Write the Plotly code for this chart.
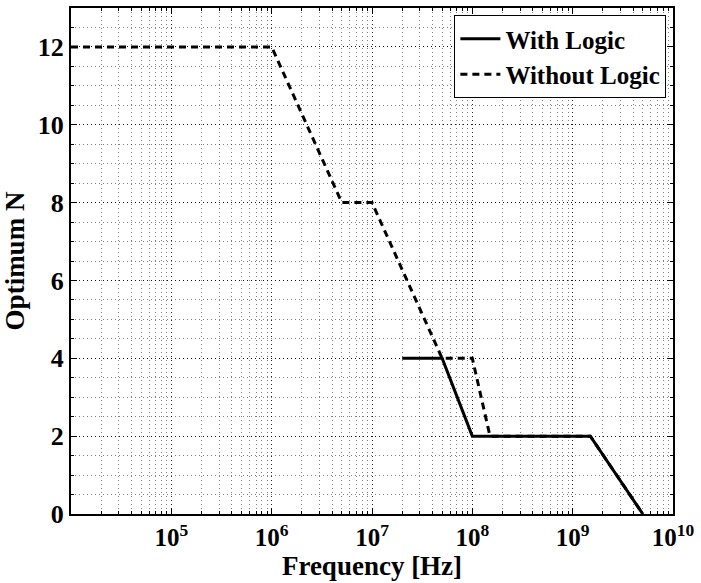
import plotly.graph_objects as go

# Data
with_freq = [2e7, 5e7, 1e8, 1.5e9, 5e9]
with_n = [4, 4, 2, 2, 0]
without_freq = [1e4, 1e6, 5e6, 1e7, 5e7, 1e8, 1.5e8, 1.5e9, 5e9]
without_n = [12, 12, 8, 8, 4, 4, 2, 2, 0]

x_tick_vals = [1e5, 1e6, 1e7, 1e8, 1e9, 1e10]
x_tick_text = ["10<sup>5</sup>", "10<sup>6</sup>", "10<sup>7</sup>", "10<sup>8</sup>", "10<sup>9</sup>", "10<sup>10</sup>"]
y_tick_vals = [0, 2, 4, 6, 8, 10, 12]

FONT = "Liberation Serif"

fig = go.Figure()
fig.add_trace(go.Scatter(x=without_freq, y=without_n, mode="lines", name="<b>Without Logic</b>",
                         line=dict(color="black", width=3, dash="7px,5px")))
fig.add_trace(go.Scatter(x=with_freq, y=with_n, mode="lines", name="<b>With Logic</b>",
                         line=dict(color="black", width=3)))

minor_x = [m * 10 ** e for e in range(4, 10) for m in range(2, 10)]

GRID_MAJOR = "rgba(0,0,0,0.85)"
GRID_MINOR = "rgba(0,0,0,0.5)"
GRID_DASH = "1px,3px"

fig.update_layout(
    width=701, height=583,
    margin=dict(l=70.5, r=21.5, t=6, b=69),
    paper_bgcolor="white", plot_bgcolor="white",
    font=dict(family=FONT, color="black", size=24),
    showlegend=True,
    legend=dict(x=0.989, y=0.986, xanchor="right", yanchor="top", bgcolor="white",
                bordercolor="black", borderwidth=1, traceorder="reversed",
                font=dict(family=FONT, size=25, color="black"),
                tracegroupgap=0, itemwidth=40),
    xaxis=dict(
        type="log", range=[4, 10],
        tickvals=x_tick_vals, ticktext=x_tick_text,
        ticks="inside", ticklen=6, tickwidth=1, tickcolor="black",
        showline=True, linecolor="black", linewidth=2, mirror="allticks",
        showgrid=True, gridcolor=GRID_MAJOR, griddash=GRID_DASH, gridwidth=1,
        tickfont=dict(family=FONT, size=25, color="black", weight="bold"),
        title=dict(text="<b>Frequency [Hz]</b>", font=dict(family=FONT, size=27), standoff=2),
        minor=dict(tickvals=minor_x, ticks="inside", ticklen=3, tickcolor="black",
                   showgrid=True, gridcolor=GRID_MINOR, griddash=GRID_DASH, gridwidth=1),
        zeroline=False,
    ),
    yaxis=dict(
        range=[0, 13],
        tickvals=y_tick_vals,
        ticks="inside", ticklen=6, tickwidth=1, tickcolor="black",
        showline=True, linecolor="black", linewidth=2, mirror="allticks",
        showgrid=True, gridcolor=GRID_MAJOR, griddash=GRID_DASH, gridwidth=1,
        tickfont=dict(family=FONT, size=26, color="black", weight="bold"),
        title=dict(text="<b>Optimum N</b>", font=dict(family=FONT, size=27), standoff=6),
        minor=dict(dtick=0.5, ticks="inside", ticklen=3, tickcolor="black",
                   showgrid=True, gridcolor=GRID_MINOR, griddash=GRID_DASH, gridwidth=1),
        zeroline=False,
    ),
)

fig.write_html("out.html", config={"displayModeBar": False},
               post_script="document.body.style.margin='0';document.body.style.padding='0';")
